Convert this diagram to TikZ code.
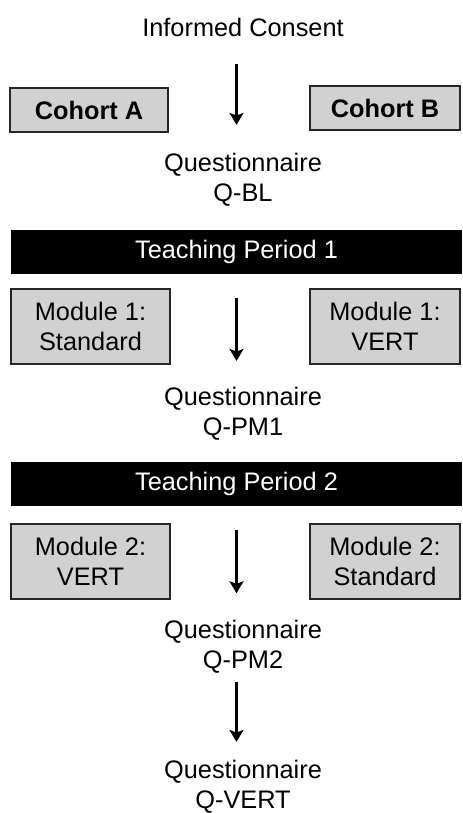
\documentclass[tikz,border=0pt]{standalone}
\usepackage{fontspec}
\setmainfont{Liberation Sans}
\usetikzlibrary{arrows.meta, positioning}

\begin{document}
\begin{tikzpicture}[
    x=0.75pt, y=-0.75pt,
    every node/.style={font=\fontsize{19}{22.5}\selectfont, align=center},
    stage/.style={inner sep=0pt},
    cohort/.style={rectangle, draw=black!85, line width=1.5pt, fill=black!18, minimum height=33pt, font=\fontsize{19}{22.5}\selectfont\bfseries},
    module/.style={rectangle, draw=black!85, line width=1.5pt, fill=black!18, minimum height=56.25pt},
    period/.style={rectangle, fill=black, text=white, minimum width=338.25pt, minimum height=33pt},
    flow/.style={-{Stealth[length=9pt, width=10.5pt, inset=2pt]}, line width=2.2pt},
]
\useasboundingbox (0,0) rectangle (462,813);

% Questionnaires and consent
\node[stage] (consent) at (243,27) {Informed Consent};
\node[stage] (qbl) at (243,179.5) {Questionnaire\\Q-BL};
\node[stage] (qpm1) at (243,413.5) {Questionnaire\\Q-PM1};
\node[stage] (qpm2) at (243,647) {Questionnaire\\Q-PM2};
\node[stage] (qvert) at (243,786.5) {Questionnaire\\Q-VERT};

% Cohorts
\node[cohort, minimum width=118.5pt] (cohA) at (89,110) {Cohort A};
\node[cohort, minimum width=112.5pt] (cohB) at (385,108.5) {Cohort B};

% Teaching periods
\node[period] (tp1) at (236.5,252) {Teaching Period 1};
\node[period] (tp2) at (236.5,484) {Teaching Period 2};

% Modules
\node[module, minimum width=119.25pt] (modAa) at (90.5,326.5) {Module 1:\\Standard};
\node[module, minimum width=112.5pt] (modBa) at (385,326.5) {Module 1:\\VERT};
\node[module, minimum width=119.25pt] (modAb) at (90.5,561.5) {Module 2:\\VERT};
\node[module, minimum width=112.5pt] (modBb) at (385,561.5) {Module 2:\\Standard};

% Flow
\draw[flow, shorten <=20.8pt, shorten >=20.8pt] (consent.south -| tp1) -- (qbl.north -| tp1);
\draw[flow, shorten <=18pt, shorten >=19.3pt] (tp1.south) -- (qpm1.north -| tp1);
\draw[flow, shorten <=18pt, shorten >=20.2pt] (tp2.south) -- (qpm2.north -| tp2);
\draw[flow, shorten <=6.2pt, shorten >=13.3pt] (qpm2.south -| tp2) -- (qvert.north -| tp2);

\end{tikzpicture}
\end{document}
